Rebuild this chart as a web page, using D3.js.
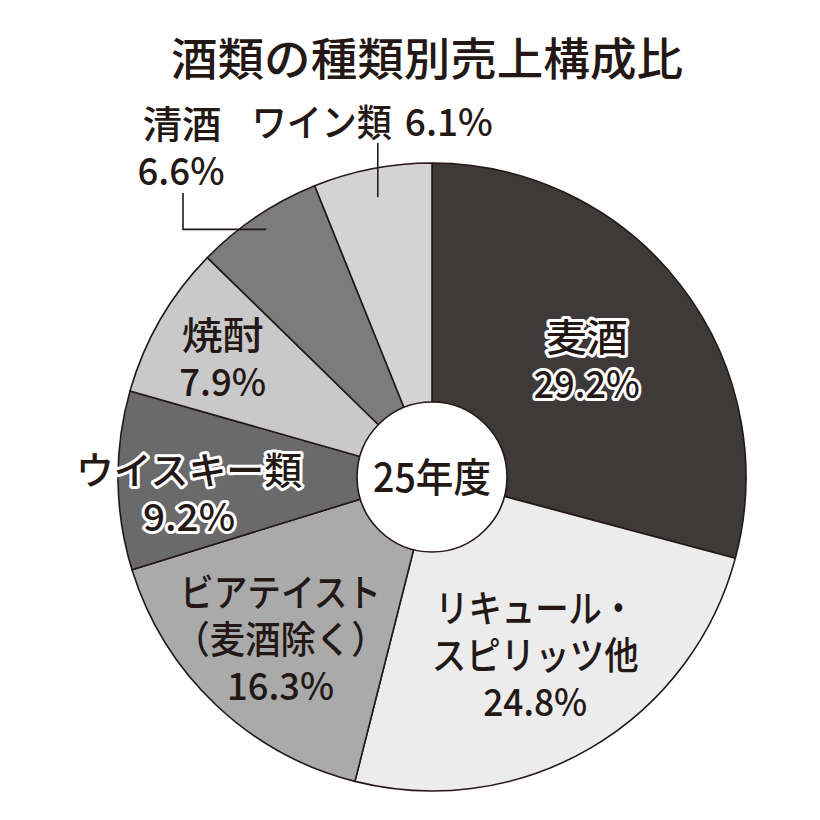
<!DOCTYPE html>
<html>
<head>
<meta charset="utf-8">
<script src="https://cdn.jsdelivr.net/npm/d3@7"></script>
<style>
  html, body { margin: 0; padding: 0; background: #fff; }
  svg { display: block; }
  text { font-family: "Noto Sans CJK JP", "Noto Sans", sans-serif; fill: #231815; font-weight: 500; }
</style>
</head>
<body>
<div id="chart"></div>
<script>
// Data
const chartTitle = "酒類の種類別売上構成比";
const centerLabel = "25年度";
const categories = ["麦酒", "リキュール・スピリッツ他", "ビアテイスト（麦酒除く）", "ウイスキー類", "焼酎", "清酒", "ワイン類"];
const shares = [29.2, 24.8, 16.3, 9.2, 7.9, 6.6, 6.1];
const labelLines = [
    ["麦酒"],
    ["リキュール・", "スピリッツ他"],
    ["ビアテイスト", "（麦酒除く）"],
    ["ウイスキー類"],
    ["焼酎"],
    ["清酒"],
    ["ワイン類"]
];

// Styles / layout
const sliceColors = ["#3e3a39", "#ebeceb", "#aaaaaa", "#6a6a6a", "#c9c9c9", "#7c7c7c", "#d3d3d3"];
const width = 820;
const height = 820;
const cx = 432, cy = 477;
const outerR = 314, innerR = 75;
const lineGap = 47;
const fontSize = 38;

// inside labels: radius along mid angle, extra y shift, halo, widths per line (name lines then percent)
const insideLabel = [
    { r: 195, dy: 0, halo: true, widths: [82, 106] },
    { r: 204, dy: 0, halo: false, widths: [200, 207, 104] },
    { r: 220, dy: 0, halo: false, widths: [201, 212, 107] },
    { r: 243, dy: 11, halo: true, widths: [226, 92] },
    { r: 242, dy: 0, halo: false, widths: [82, 87] }
];

const fmt = v => d3.format(".1f")(v) + "%";

const svg = d3.select("#chart")
    .append("svg")
    .attr("width", width)
    .attr("height", height);

svg.append("text")
    .attr("x", 427)
    .attr("y", 56)
    .attr("text-anchor", "middle")
    .attr("dominant-baseline", "central")
    .attr("textLength", 512)
    .attr("lengthAdjust", "spacingAndGlyphs")
    .style("font-size", "45px")
    .text(chartTitle);

const color = d3.scaleOrdinal(categories, sliceColors);

const pie = d3.pie().sort(null).value(d => d.value);
const arcs = pie(categories.map((c, i) => ({ name: c, value: shares[i], index: i })));

const arc = d3.arc().innerRadius(0).outerRadius(outerR);

const chart = svg.append("g").attr("transform", `translate(${cx},${cy})`);

chart.selectAll("path.slice")
    .data(arcs)
    .enter()
    .append("path")
    .attr("class", "slice")
    .attr("d", arc)
    .attr("fill", d => color(d.data.name))
    .attr("stroke", "#231815")
    .attr("stroke-width", 1.6)
    .attr("stroke-linejoin", "round");

chart.append("circle")
    .attr("r", innerR)
    .attr("fill", "#fff")
    .attr("stroke", "#231815")
    .attr("stroke-width", 1.6);

chart.append("text")
    .attr("x", 0)
    .attr("y", -2)
    .attr("text-anchor", "middle")
    .attr("dominant-baseline", "central")
    .attr("textLength", 118)
    .attr("lengthAdjust", "spacingAndGlyphs")
    .style("font-size", "40px")
    .text(centerLabel);

function addLine(g, str, x, y, w, halo, anchor) {
    const t = g.append("text")
        .attr("x", x)
        .attr("y", y)
        .attr("text-anchor", anchor || "middle")
        .attr("dominant-baseline", "central")
        .attr("textLength", w)
        .attr("lengthAdjust", "spacingAndGlyphs")
        .style("font-size", fontSize + "px")
        .text(str);
    if (halo) {
        t.attr("stroke", "#fff")
            .attr("stroke-width", 6)
            .attr("stroke-linejoin", "round")
            .attr("paint-order", "stroke");
    }
    return t;
}

// inside labels
insideLabel.forEach((cfg, i) => {
    const d = arcs[i];
    const pos = d3.arc().innerRadius(cfg.r).outerRadius(cfg.r).centroid(d);
    const lines = labelLines[i].concat([fmt(shares[i])]);
    const y0 = pos[1] + cfg.dy - (lines.length - 1) * lineGap / 2;
    lines.forEach((str, k) => {
        addLine(chart, str, pos[0], y0 + k * lineGap, cfg.widths[k], cfg.halo);
    });
});

// outside label: 清酒 (elbow leader)
{
    const i = 5;
    const end = d3.arc().innerRadius(298).outerRadius(298).centroid(arcs[i]);
    const cornerX = 183 - cx;
    const topY = 193 - cy;
    chart.append("path")
        .attr("d", d3.line()([end, [cornerX, end[1]], [cornerX, topY]]))
        .attr("fill", "none")
        .attr("stroke", "#231815")
        .attr("stroke-width", 1.6);
    addLine(chart, labelLines[i][0], cornerX - 1, topY - 72, 79, false);
    addLine(chart, fmt(shares[i]), cornerX - 2, topY - 25, 87, false);
}

// outside label: ワイン類 (vertical leader)
{
    const i = 6;
    const end = d3.arc().innerRadius(285).outerRadius(285).centroid(arcs[i]);
    const topY = 143 - cy;
    chart.append("path")
        .attr("d", d3.line()([end, [end[0], topY]]))
        .attr("fill", "none")
        .attr("stroke", "#231815")
        .attr("stroke-width", 1.6);
    addLine(chart, labelLines[i][0], end[0] - 126, topY - 24, 140, false, "start");
    addLine(chart, fmt(shares[i]), end[0] + 27, topY - 24, 88, false, "start");
}
</script>
</body>
</html>
